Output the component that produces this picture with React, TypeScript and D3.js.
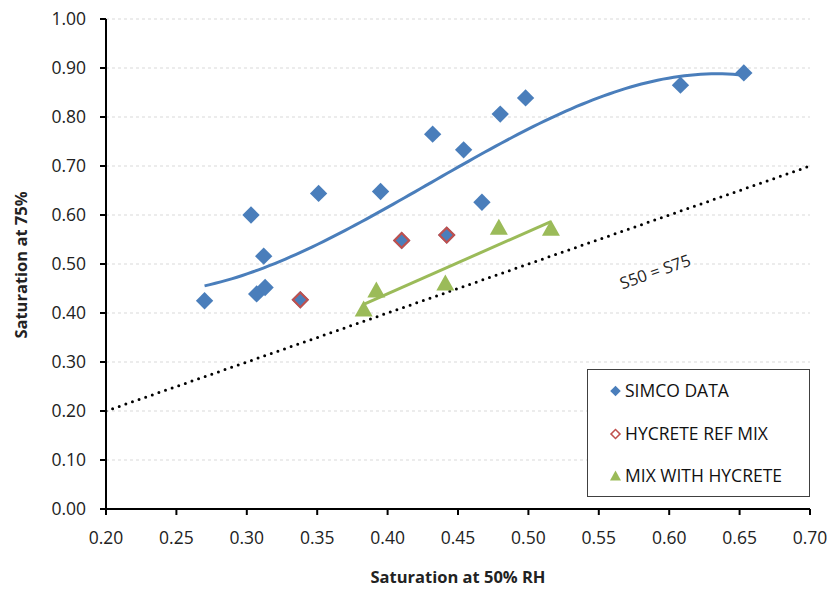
import React from 'react';
import * as d3 from 'd3';

// ---- data ----
const xTickValues = [0.2, 0.25, 0.3, 0.35, 0.4, 0.45, 0.5, 0.55, 0.6, 0.65, 0.7];
const yTickValues = [0.0, 0.1, 0.2, 0.3, 0.4, 0.5, 0.6, 0.7, 0.8, 0.9, 1.0];

const simcoX = [0.270, 0.303, 0.307, 0.312, 0.313, 0.338, 0.351, 0.395, 0.410, 0.432, 0.442, 0.454, 0.467, 0.480, 0.498, 0.608, 0.653];
const simcoY = [0.425, 0.600, 0.439, 0.516, 0.452, 0.427, 0.644, 0.648, 0.548, 0.765, 0.559, 0.733, 0.626, 0.806, 0.839, 0.865, 0.890];

const refX = [0.338, 0.410, 0.442];
const refY = [0.427, 0.548, 0.559];

const mixX = [0.383, 0.392, 0.441, 0.479, 0.516];
const mixY = [0.408, 0.447, 0.461, 0.575, 0.573];

const equalityLine = [0.2, 0.7];

const legendLabels = ['SIMCO DATA', 'HYCRETE REF MIX', 'MIX WITH HYCRETE'];

const BLUE = '#4A7EBB';
const RED = '#C0504D';
const GREEN = '#9BBB59';
const FONT = "'Open Sans', sans-serif";

function polyFit(xs: number[], ys: number[], deg: number, c: number) {
  const n = deg + 1;
  const A: number[][] = Array.from({ length: n }, () => new Array(n).fill(0));
  const b: number[] = new Array(n).fill(0);
  xs.forEach((xv, k) => {
    const u = xv - c;
    for (let i = 0; i < n; i++) {
      for (let j = 0; j < n; j++) A[i][j] += Math.pow(u, i + j);
      b[i] += ys[k] * Math.pow(u, i);
    }
  });
  for (let i = 0; i < n; i++) {
    let p = i;
    for (let r = i + 1; r < n; r++) if (Math.abs(A[r][i]) > Math.abs(A[p][i])) p = r;
    [A[i], A[p]] = [A[p], A[i]];
    [b[i], b[p]] = [b[p], b[i]];
    for (let r = i + 1; r < n; r++) {
      const f = A[r][i] / A[i][i];
      for (let j = i; j < n; j++) A[r][j] -= f * A[i][j];
      b[r] -= f * b[i];
    }
  }
  const coef = new Array(n).fill(0);
  for (let i = n - 1; i >= 0; i--) {
    let s = b[i];
    for (let j = i + 1; j < n; j++) s -= A[i][j] * coef[j];
    coef[i] = s / A[i][i];
  }
  return (xv: number) => coef.reduce((acc, cf, i) => acc + cf * Math.pow(xv - c, i), 0);
}

export default function App() {
  const x = d3.scaleLinear().domain([0.2, 0.7]).range([106, 810]);
  const y = d3.scaleLinear().domain([0, 1]).range([509, 19]);

  const cubic = polyFit(simcoX, simcoY, 3, 0.45);
  const [sx0, sx1] = d3.extent(simcoX) as [number, number];
  const curvePts = d3.range(0, 101).map((i) => sx0 + ((sx1 - sx0) * i) / 100);
  const lin = polyFit(mixX, mixY, 1, 0.45);
  const [mx0, mx1] = d3.extent(mixX) as [number, number];

  const line = d3.line<number>().x((d) => x(d)).y((d) => y(cubic(d)));
  const linLine = d3.line<number>().x((d) => x(d)).y((d) => y(lin(d)));
  const eqLine = d3.line<number>().x((d) => x(d)).y((d) => y(d));

  const diamond = d3.symbol().type(d3.symbolSquare).size(150)();
  const diamondSmall = d3.symbol().type(d3.symbolSquare).size(56)();
  const tri = 'M0,-8.5L9,7.5L-9,7.5Z';
  const triSmall = 'M0,-5.5L5.5,4.5L-5.5,4.5Z';

  const angle = (-Math.atan((y(0.2) - y(0.7)) / (x(0.7) - x(0.2))) * 180) / Math.PI;

  const legendY = [391, 434, 476];

  return (
    <svg width={834} height={590} style={{ position: 'absolute', left: 0, top: 0, background: '#fff' }} fontFamily={FONT}>
      {/* gridlines */}
      {yTickValues.filter((v) => v > 0).map((v) => (
        <line key={'g' + v} x1={x(0.2)} x2={x(0.7)} y1={y(v)} y2={y(v)} stroke="#d9d9d9" strokeWidth={1} strokeDasharray="3,3" />
      ))}

      {/* equality line */}
      <path d={eqLine(equalityLine) || ''} fill="none" stroke="#000" strokeWidth={3} strokeLinecap="round" strokeDasharray="0,7" />
      <text
        transform={`translate(${x(0.59)},${y(0.484)}) rotate(${angle})`}
        fontSize={16.5}
        fill="#222"
        textAnchor="middle"
        dy="0.35em"
      >
        S50 = S75
      </text>

      {/* trend lines */}
      <path d={line(curvePts) || ''} fill="none" stroke={BLUE} strokeWidth={3} />
      <path d={linLine([mx0, mx1]) || ''} fill="none" stroke={GREEN} strokeWidth={3} />

      {/* markers */}
      {simcoX.map((v, i) => (
        <path key={'s' + i} d={diamond} transform={`translate(${x(v)},${y(simcoY[i])}) rotate(45)`} fill={BLUE} />
      ))}
      {refX.map((v, i) => (
        <path key={'r' + i} d={diamond} transform={`translate(${x(v)},${y(refY[i])}) rotate(45) scale(0.85)`} fill="none" stroke={RED} strokeWidth={2.5} />
      ))}
      {mixX.map((v, i) => (
        <path key={'m' + i} d={tri} transform={`translate(${x(v)},${y(mixY[i])})`} fill={GREEN} />
      ))}

      {/* axes */}
      <line x1={x(0.2)} x2={x(0.2)} y1={y(0)} y2={y(1)} stroke="#000" strokeWidth={2} />
      <line x1={x(0.2)} x2={x(0.7)} y1={y(0)} y2={y(0)} stroke="#000" strokeWidth={2} />
      {yTickValues.map((v) => (
        <g key={'yt' + v}>
          <line x1={x(0.2) - 6} x2={x(0.2)} y1={y(v)} y2={y(v)} stroke="#000" strokeWidth={2} />
          <text x={x(0.2) - 20} y={y(v)} dy="0.35em" textAnchor="end" fontSize={17.5} fill="#222">
            {v.toFixed(2)}
          </text>
        </g>
      ))}
      {xTickValues.map((v) => (
        <g key={'xt' + v}>
          <line x1={x(v)} x2={x(v)} y1={y(0)} y2={y(0) + 6} stroke="#000" strokeWidth={2} />
          <text x={x(v)} y={543.5} textAnchor="middle" fontSize={17.5} fill="#222">
            {v.toFixed(2)}
          </text>
        </g>
      ))}

      {/* axis titles */}
      <text x={458} y={583} textAnchor="middle" fontSize={16.5} fontWeight="bold" fill="#222">
        Saturation at 50% RH
      </text>
      <text transform="translate(27,265) rotate(-90)" textAnchor="middle" fontSize={16.5} fontWeight="bold" fill="#222">
        Saturation at 75%
      </text>

      {/* legend */}
      <rect x={587.5} y={369.5} width={222} height={127} fill="#fff" stroke="#404040" strokeWidth={1} />
      <path d={diamondSmall} transform={`translate(615.5,${legendY[0]}) rotate(45)`} fill={BLUE} />
      <path d={diamondSmall} transform={`translate(615.5,${legendY[1]}) rotate(45) scale(0.85)`} fill="none" stroke={RED} strokeWidth={1.8} />
      <path d={triSmall} transform={`translate(615.5,${legendY[2]})`} fill={GREEN} />
      {legendLabels.map((l, i) => (
        <text key={l} x={625} y={legendY[i]} dy="0.36em" fontSize={17.5} fill="#111">
          {l}
        </text>
      ))}
    </svg>
  );
}
